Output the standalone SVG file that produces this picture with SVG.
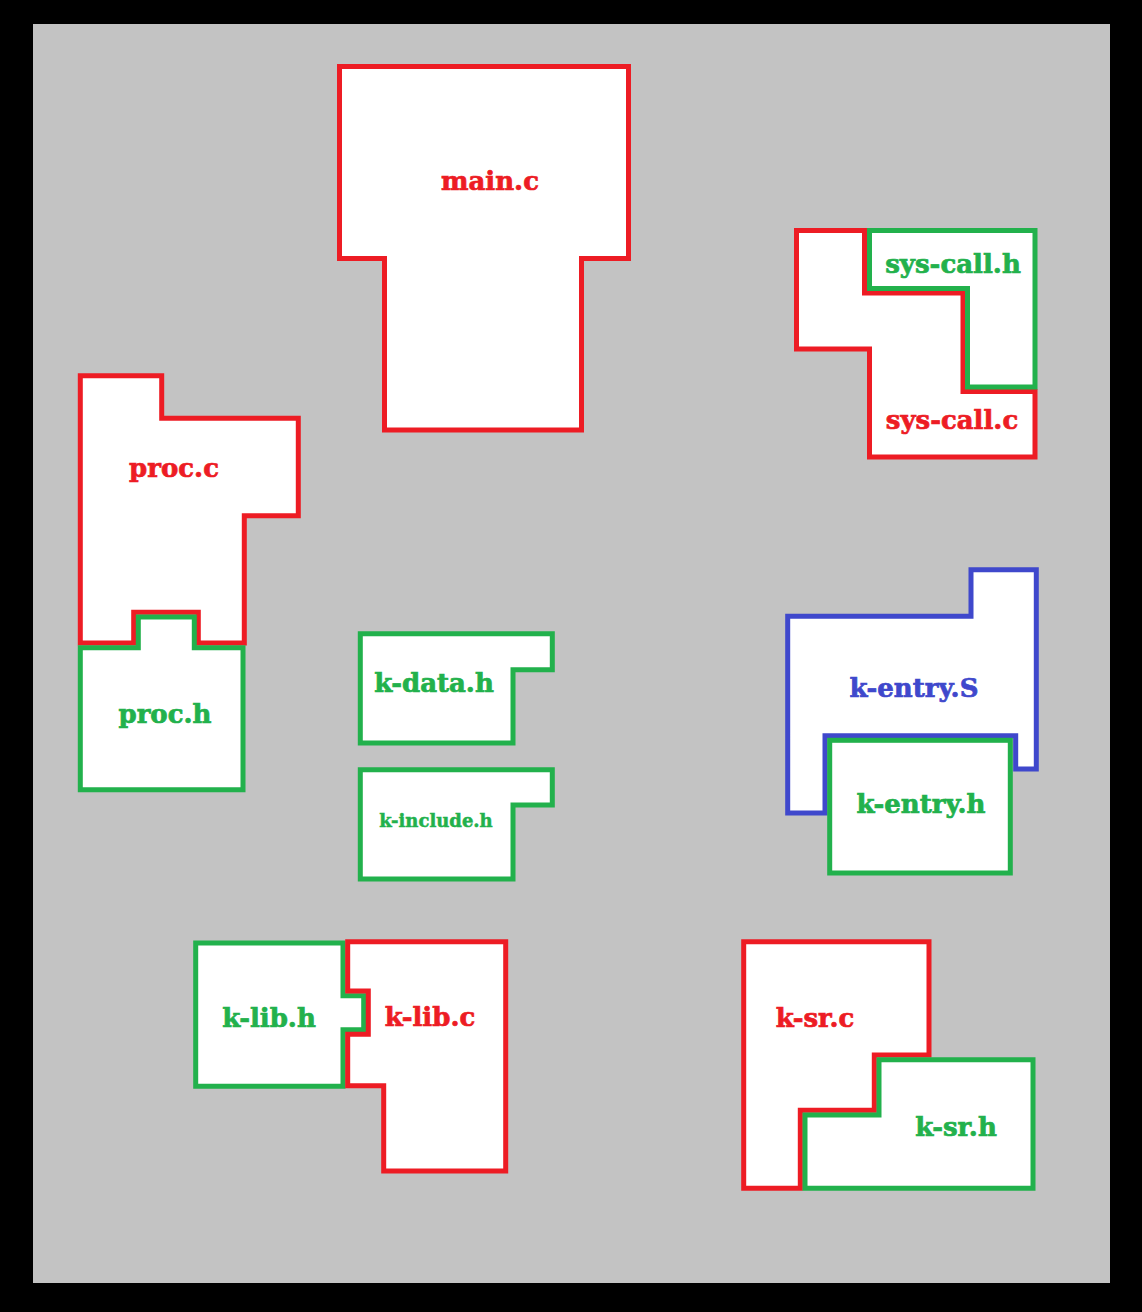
<svg xmlns="http://www.w3.org/2000/svg" width="1142" height="1312" viewBox="0 0 1142 1312">
<style>
.s{fill:#fff;stroke-width:5;stroke-linejoin:miter}
.r{stroke:#ED1C24}
.g{stroke:#22B14C}
.b{stroke:#3F48CC}
text{font-family:"DejaVu Serif","Liberation Serif",serif;font-weight:bold;font-size:26px;text-anchor:middle;stroke-width:0.7}
.tr{fill:#ED1C24;stroke:#ED1C24}
.tg{fill:#22B14C;stroke:#22B14C}
.tb{fill:#3F48CC;stroke:#3F48CC}
</style>
<rect x="0" y="0" width="1142" height="1312" fill="#000"/>
<rect x="33" y="24" width="1077" height="1259" fill="#C3C3C3"/>
<g id="main-c">
<path class="s r" d="M339.5,66.5 H628.5 V258.5 H581.5 V430 H384.5 V258.5 H339.5 Z"/>
<text class="tr" x="490" y="190">main.c</text>
</g>
<g id="sys-call-c">
<path class="s r" d="M796.5,230.5 H864.5 V293 H963 V391.5 H1035 V457 H869.5 V349 H796.5 Z"/>
<text class="tr" x="952" y="429">sys-call.c</text>
</g>
<g id="sys-call-h">
<path class="s g" d="M869.5,230.5 H1035 V387 H967.5 V288.5 H869.5 Z"/>
<text class="tg" x="953" y="273">sys-call.h</text>
</g>
<g id="proc-c">
<path class="s r" d="M80.3,375.7 H161.7 V418.3 H298.3 V515.7 H244.3 V643 H198.3 V612.3 H133.7 V643 H80.3 Z"/>
<text class="tr" x="174" y="477">proc.c</text>
</g>
<g id="proc-h">
<path class="s g" d="M80.3,647.7 H138.3 V617 H194.3 V647.7 H243 V789.7 H80.3 Z"/>
<text class="tg" x="165" y="723">proc.h</text>
</g>
<g id="k-data-h">
<path class="s g" d="M360.3,633.7 H552.3 V669.7 H513 V743 H360.3 Z"/>
<text class="tg" x="434" y="692">k-data.h</text>
</g>
<g id="k-include-h">
<path class="s g" d="M360.3,769.7 H552.3 V805 H513 V879 H360.3 Z"/>
<text class="tg" x="436" y="827" style="font-size:18px;stroke-width:0.5">k-include.h</text>
</g>
<g id="k-entry-S">
<path class="s b" d="M787.7,616.3 H971 V569.7 H1036.3 V769 H1015.7 V735.7 H825 V813 H787.7 Z"/>
<text class="tb" x="914" y="697">k-entry.S</text>
</g>
<g id="k-entry-h">
<rect class="s g" x="829.7" y="740.3" width="180.6" height="132.7"/>
<text class="tg" x="921" y="813">k-entry.h</text>
</g>
<g id="k-lib-h">
<path class="s g" d="M195.7,943 H343 V995.7 H363.7 V1029.7 H343 V1086.3 H195.7 Z"/>
<text class="tg" x="269" y="1027">k-lib.h</text>
</g>
<g id="k-lib-c">
<path class="s r" d="M347.7,941.7 H505.7 V1171 H383.7 V1085.7 H347.7 V1034.3 H368.3 V991 H347.7 Z"/>
<text class="tr" x="430" y="1026">k-lib.c</text>
</g>
<g id="k-sr-c">
<path class="s r" d="M743.7,941.7 H929 V1055 H874.3 V1110.3 H800.3 V1188.3 H743.7 Z"/>
<text class="tr" x="815" y="1027">k-sr.c</text>
</g>
<g id="k-sr-h">
<path class="s g" d="M805,1115 H879 V1059.7 H1033 V1188.3 H805 Z"/>
<text class="tg" x="956" y="1136">k-sr.h</text>
</g>
<g id="connectors"></g>
</svg>
